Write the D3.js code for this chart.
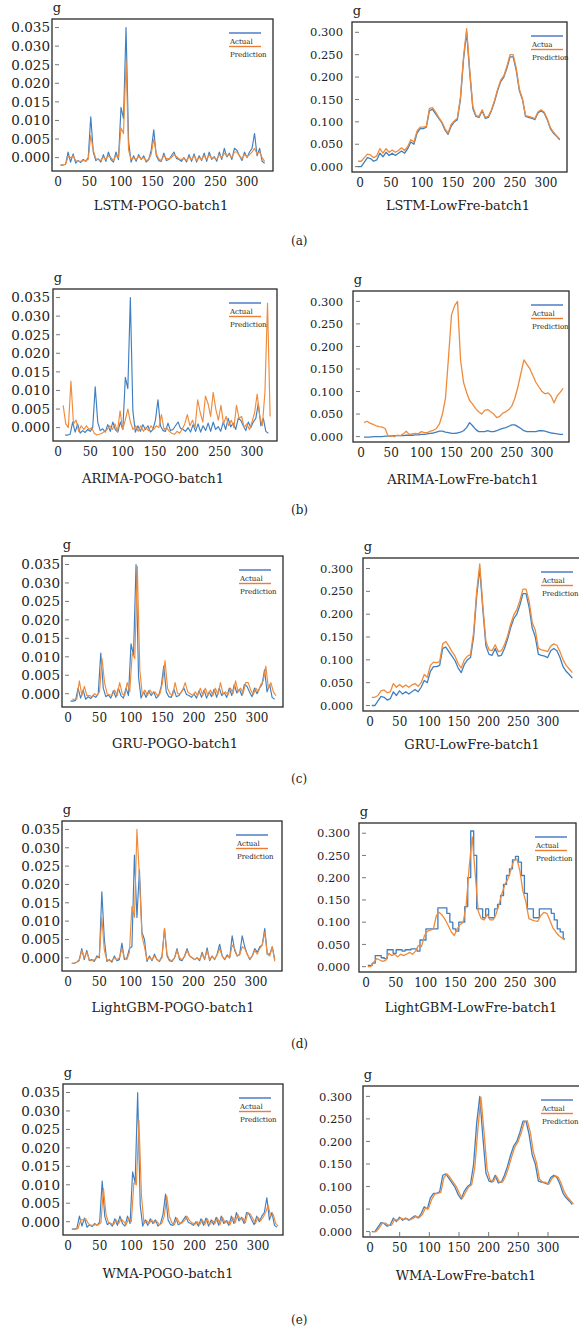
<!DOCTYPE html>
<html>
<head>
<meta charset="utf-8">
<script src="https://cdn.jsdelivr.net/npm/d3@7"></script>
<style>
    body { margin: 0; background: #fff; }
    svg { display: block; }
    text { font-family: "DejaVu Serif", serif; fill: #222; }
</style>
</head>
<body>
<div id="chart"></div>
<script>
// tick values
const pogoTicks = [0, 0.005, 0.010, 0.015, 0.020, 0.025, 0.030, 0.035];
const lowTicks = [0, 0.05, 0.10, 0.15, 0.20, 0.25, 0.30];
const xTicks = [0, 50, 100, 150, 200, 250, 300];

// POGO series, in milli-g (1e-3 g), one sample every 4 steps
const pogoActual = [-2.0,-2.0,-1.8,1.5,-1.2,1.0,-1.5,-0.8,-1.3,-0.5,
    -1.0,0.0,11.0,1.5,-0.8,-0.3,-1.2,0.8,-1.0,1.5,
    -0.5,-1.2,1.5,-0.5,13.5,10.5,35.0,4.5,-1.2,0.5,
    -1.0,0.8,-0.5,0.5,-1.2,-0.5,2.0,7.5,0.5,-0.8,
    -1.0,1.2,-0.8,-0.5,0.5,1.5,-0.2,-0.5,-1.0,0.0,
    -1.2,0.8,-1.0,1.0,-1.2,0.5,-0.8,1.2,-1.0,1.5,
    -0.5,0.3,-1.0,1.5,-0.5,2.5,0.2,1.2,-0.5,2.5,
    2.0,0.5,-0.8,1.5,0.0,1.5,2.5,6.5,0.5,2.5,
    -1.0,-1.5];
const lstmPogoPred = [-2.0,-2.0,-1.8,0.3,0.0,0.5,-0.8,-1.0,-1.0,-0.8,
    -0.8,-0.5,6.0,2.0,-0.3,-0.5,-0.8,0.2,-0.5,0.5,
    0.0,-0.8,0.5,0.0,8.0,6.5,26.0,2.0,-0.5,0.0,
    -0.5,0.3,-0.3,0.0,-0.8,-0.5,1.0,5.0,1.0,-0.3,
    -0.8,0.5,-0.2,-0.3,0.0,0.8,0.3,-0.3,-0.5,-0.2,
    -0.8,0.2,-0.5,0.5,-0.8,0.0,-0.5,0.5,-0.5,0.8,
    -0.2,0.0,-0.5,0.8,0.0,1.2,0.5,0.8,0.0,1.5,
    1.5,0.5,-0.3,0.8,0.2,0.8,1.5,2.5,1.0,1.5,
    0.0,-1.0];
const arimaPogoPred = [6.0,1.0,0.0,12.5,1.0,2.0,-1.0,0.5,-0.5,0.5,
    -0.5,0.0,-1.5,-2.0,-1.8,-1.5,-1.0,-0.5,0.5,-0.5,
    1.0,-1.0,4.5,-0.5,2.0,5.0,1.5,-0.5,0.5,-1.0,
    0.5,-1.0,0.0,-0.8,0.5,-0.5,0.5,0.0,3.5,-0.5,
    0.0,-1.0,-1.5,-1.8,-1.0,-1.5,-0.5,1.0,3.5,0.5,
    2.0,0.0,7.5,4.0,1.5,8.5,6.5,3.0,9.5,5.0,
    2.0,6.0,1.0,3.0,0.5,2.0,0.0,6.0,2.5,3.0,
    0.0,1.0,-0.5,1.5,4.0,9.0,3.0,0.5,9.5,33.5,3.0];
const gruPogoPred = [-1.5,-1.5,-1.5,3.5,-0.5,2.0,-0.5,-0.5,-0.8,0.0,
    -0.5,0.5,9.5,3.0,0.0,-0.3,-0.5,1.0,-0.5,3.0,
    0.0,-0.5,3.0,0.5,11.0,9.5,34.5,6.5,-0.5,1.0,
    -0.5,1.0,0.0,0.5,-0.5,0.0,3.0,9.0,1.5,0.0,
    -0.5,3.0,0.0,0.0,1.0,3.0,0.5,0.0,-0.5,0.5,
    -0.5,1.5,-0.5,1.5,-0.5,1.0,-0.5,1.5,-0.3,3.0,
    0.0,0.5,-0.3,1.5,0.0,3.5,0.5,1.5,0.0,3.0,
    3.0,1.0,-0.3,1.5,0.5,2.5,3.5,7.5,1.5,3.0,
    0.5,-0.5];
const lgbmPogoActual = [-1.5,-1.5,-1.2,-0.5,2.5,-0.5,2.0,-0.8,-0.5,-1.0,
    0.5,0.0,18.0,5.0,-1.0,-0.5,-1.2,0.5,-0.8,-0.5,
    4.0,-0.5,0.0,2.5,3.0,28.0,11.0,24.0,7.0,5.0,
    -1.0,0.5,-0.8,1.0,-0.5,-1.0,0.5,8.0,0.5,-0.8,
    -1.0,0.0,2.5,-0.5,-0.8,0.5,2.5,0.5,0.0,-0.5,
    0.0,-0.8,1.5,-0.5,2.7,-0.8,0.5,-0.5,1.0,3.7,
    0.5,-0.5,0.8,0.0,6.0,2.0,0.5,1.0,6.0,3.0,
    1.0,-0.5,0.5,2.5,1.5,3.0,3.5,8.0,1.0,1.0,
    3.0,-0.5];
const lgbmPogoPred = [-1.5,-1.5,-1.2,-0.8,2.0,0.0,1.5,-0.5,-0.8,-0.5,
    0.0,0.5,11.0,2.0,-0.5,-0.8,-0.8,0.0,-0.5,0.0,
    2.5,0.0,-0.5,1.5,14.0,11.0,35.0,22.0,6.0,3.0,
    -0.5,0.0,-0.5,0.5,-0.5,-0.8,0.0,8.0,1.0,-0.5,
    -0.8,0.0,2.0,0.0,-0.5,0.3,2.0,0.5,0.0,-0.5,
    0.0,-0.5,1.0,-0.3,2.0,-0.5,0.3,-0.3,0.8,2.5,
    0.5,-0.3,0.5,0.0,3.5,2.5,0.5,0.8,3.0,2.5,
    1.0,-0.3,0.5,2.0,1.0,2.5,3.5,7.0,1.0,0.5,
    3.0,-1.0];
const wmaPogoPred = [-2.0,-2.0,-1.8,0.5,0.5,0.8,-0.5,-1.0,-1.0,-0.8,
    -0.8,-0.3,9.0,2.0,-0.3,-0.5,-0.8,0.5,-0.5,0.8,
    0.0,-0.8,1.0,0.0,10.5,10.0,27.5,7.0,-0.5,0.3,
    -0.5,0.5,-0.3,0.2,-0.8,-0.5,1.5,7.0,1.5,-0.3,
    -0.8,1.0,-0.3,-0.3,0.3,1.5,0.3,-0.3,-0.8,0.0,
    -0.8,0.5,-0.8,0.8,-0.8,0.3,-0.5,1.0,-0.8,1.2,
    -0.3,0.2,-0.8,1.2,-0.3,2.0,0.5,1.0,-0.3,2.5,
    2.0,0.8,-0.5,1.2,0.2,1.2,2.5,4.5,1.5,2.0,
    -0.5,-1.2];

// LowFre series, in g, one sample every 5 steps
const lowActual = [0.000,0.000,0.010,0.020,0.018,0.012,0.015,0.030,0.022,0.032,
    0.025,0.030,0.025,0.030,0.035,0.030,0.040,0.055,0.050,0.075,
    0.085,0.085,0.088,0.125,0.128,0.118,0.108,0.098,0.082,0.072,
    0.090,0.100,0.105,0.150,0.240,0.300,0.210,0.130,0.112,0.110,
    0.125,0.108,0.110,0.125,0.145,0.170,0.190,0.200,0.220,0.245,
    0.245,0.215,0.170,0.150,0.112,0.110,0.108,0.105,0.120,0.125,
    0.120,0.105,0.085,0.075,0.068,0.060];
const lstmLowPred = [0.012,0.012,0.020,0.028,0.026,0.020,0.024,0.040,0.030,0.040,
    0.032,0.037,0.032,0.036,0.042,0.036,0.045,0.060,0.055,0.080,
    0.088,0.088,0.090,0.130,0.132,0.122,0.110,0.100,0.085,0.075,
    0.094,0.102,0.108,0.155,0.245,0.308,0.215,0.134,0.114,0.112,
    0.127,0.110,0.112,0.127,0.148,0.173,0.193,0.203,0.224,0.250,
    0.250,0.220,0.173,0.152,0.114,0.112,0.110,0.107,0.122,0.127,
    0.122,0.107,0.087,0.077,0.069,0.062];
const arimaLowActual = [-0.001,-0.001,-0.001,0.000,0.000,0.000,0.000,0.001,0.001,0.001,
    0.002,0.002,0.002,0.002,0.003,0.003,0.003,0.004,0.004,0.005,
    0.005,0.006,0.007,0.008,0.010,0.012,0.012,0.010,0.009,0.007,
    0.007,0.008,0.010,0.013,0.020,0.031,0.024,0.016,0.011,0.011,
    0.011,0.013,0.011,0.011,0.013,0.016,0.018,0.020,0.023,0.026,
    0.026,0.022,0.018,0.013,0.011,0.011,0.011,0.011,0.013,0.013,
    0.012,0.010,0.008,0.007,0.006,0.005,0.005];
const arimaLowPred = [0.031,0.034,0.030,0.027,0.024,0.022,0.021,0.018,0.001,0.002,
    0.000,0.003,0.002,0.006,0.012,0.005,0.006,0.007,0.006,0.011,
    0.009,0.009,0.012,0.014,0.018,0.028,0.050,0.085,0.175,0.270,
    0.290,0.300,0.170,0.120,0.098,0.080,0.072,0.062,0.055,0.050,
    0.058,0.060,0.055,0.050,0.042,0.045,0.052,0.055,0.060,0.068,
    0.085,0.110,0.140,0.170,0.160,0.150,0.135,0.120,0.110,0.100,
    0.095,0.097,0.090,0.075,0.090,0.098,0.107];
const gruLowPred = [0.018,0.018,0.022,0.032,0.034,0.028,0.030,0.048,0.040,0.046,
    0.040,0.045,0.040,0.045,0.048,0.042,0.050,0.068,0.062,0.088,
    0.095,0.094,0.096,0.135,0.140,0.130,0.118,0.108,0.092,0.082,
    0.100,0.108,0.112,0.160,0.250,0.310,0.218,0.140,0.122,0.120,
    0.133,0.118,0.120,0.133,0.152,0.178,0.198,0.210,0.230,0.255,
    0.255,0.228,0.182,0.165,0.125,0.122,0.120,0.118,0.130,0.135,
    0.132,0.118,0.100,0.088,0.080,0.072];
const lgbmLowActual = [0.003,0.003,0.008,0.025,0.025,0.020,0.018,0.038,0.038,0.030,
    0.038,0.038,0.035,0.038,0.038,0.040,0.040,0.035,0.060,0.060,
    0.085,0.085,0.085,0.085,0.132,0.132,0.132,0.120,0.100,0.085,
    0.080,0.100,0.100,0.135,0.200,0.305,0.250,0.130,0.130,0.110,
    0.130,0.110,0.110,0.130,0.140,0.160,0.185,0.205,0.220,0.240,
    0.248,0.235,0.205,0.165,0.130,0.130,0.110,0.110,0.130,0.130,
    0.130,0.130,0.120,0.105,0.085,0.078,0.063];
const lgbmLowPred = [0.000,0.000,0.010,0.018,0.015,0.012,0.014,0.030,0.025,0.028,
    0.022,0.028,0.025,0.028,0.032,0.028,0.035,0.048,0.045,0.070,
    0.080,0.082,0.085,0.115,0.122,0.115,0.105,0.092,0.078,0.070,
    0.085,0.095,0.100,0.140,0.225,0.292,0.210,0.125,0.108,0.105,
    0.118,0.105,0.105,0.118,0.140,0.165,0.185,0.198,0.218,0.240,
    0.242,0.215,0.170,0.145,0.108,0.105,0.103,0.102,0.115,0.122,
    0.120,0.105,0.088,0.078,0.070,0.065,0.060];
const wmaLowPred = [0.000,0.000,0.008,0.018,0.019,0.014,0.014,0.027,0.025,0.030,
    0.027,0.029,0.026,0.029,0.034,0.031,0.038,0.052,0.051,0.071,
    0.083,0.085,0.087,0.120,0.128,0.120,0.110,0.100,0.085,0.074,
    0.087,0.099,0.104,0.142,0.228,0.298,0.220,0.138,0.114,0.111,
    0.123,0.110,0.110,0.123,0.143,0.167,0.188,0.199,0.218,0.242,
    0.246,0.220,0.176,0.153,0.116,0.110,0.109,0.105,0.118,0.124,
    0.121,0.107,0.088,0.077,0.069,0.061];

const subLabels = ["(a)", "(b)", "(c)", "(d)", "(e)"];

const blue = "#3f7fc0",
    orange = "#ef8b3b";

// one entry per panel: frame box [left, top, right, bottom], pixel of x=0 and x=300
let panels = [
    { title: "LSTM-POGO-batch1", kind: "pogo", box: [52, 19, 273, 171], xpx: [58, 247], labelRight: 50, titleX: 161, titleY: 210, legendX: 229, legend: ["Actual", "Prediction"],
      actual: { values: pogoActual, start: 4, step: 4 }, pred: { values: lstmPogoPred, start: 4, step: 4 } },
    { title: "LSTM-LowFre-batch1", kind: "low", box: [352, 22, 567, 172], xpx: [360, 546], labelRight: 343, titleX: 458, titleY: 210, legendX: 531, legend: ["Actua", "Prediction"],
      actual: { values: lowActual, start: -3, step: 5 }, pred: { values: lstmLowPred, start: -3, step: 5 } },
    { title: "ARIMA-POGO-batch1", kind: "pogo", box: [53, 289, 277, 441], xpx: [58, 252], labelRight: 50, titleX: 153, titleY: 483, legendX: 229, legend: ["Actual", "Prediction"],
      actual: { values: pogoActual, start: 11, step: 3.88 }, pred: { values: arimaPogoPred, start: 8, step: 4 } },
    { title: "ARIMA-LowFre-batch1", kind: "low", box: [353, 291, 569, 442], xpx: [361, 542], labelRight: 343, titleX: 463, titleY: 484, legendX: 531, legend: ["Actual", "Prediction"],
      actual: { values: arimaLowActual, start: 5, step: 5 }, pred: { values: arimaLowPred, start: 5, step: 5 } },
    { title: "GRU-POGO-batch1", kind: "pogo", box: [62, 556, 283, 707], xpx: [68, 257], labelRight: 60, titleX: 175, titleY: 748, legendX: 239, legend: ["Actual", "Prediction"],
      actual: { values: pogoActual, start: 4, step: 4 }, pred: { values: gruPogoPred, start: 6, step: 4 } },
    { title: "GRU-LowFre-batch1", kind: "low", box: [363, 558, 580, 711], xpx: [370, 548], labelRight: 353, titleX: 472, titleY: 749, legendX: 541, legend: ["Actual", "Prediction"],
      actual: { values: lowActual, start: 3, step: 5.2 }, pred: { values: gruLowPred, start: 3, step: 5.2 } },
    { title: "LightGBM-POGO-batch1", kind: "pogo", box: [62, 821, 282, 971], xpx: [68, 256], labelRight: 60, titleX: 173, titleY: 1012, legendX: 236, legend: ["Actual", "Prediction"],
      actual: { values: lgbmPogoActual, start: 6, step: 4 }, pred: { values: lgbmPogoPred, start: 6, step: 4 } },
    { title: "LightGBM-LowFre-batch1", kind: "low", box: [359, 823, 576, 972], xpx: [366, 545], labelRight: 350, titleX: 471, titleY: 1012, legendX: 535, legend: ["Actual", "Prediction"],
      actual: { values: lgbmLowActual, start: 3, step: 5, stepped: true }, pred: { values: lgbmLowPred, start: 3, step: 5 } },
    { title: "WMA-POGO-batch1", kind: "pogo", box: [63, 1084, 283, 1235], xpx: [68, 258], labelRight: 60, titleX: 168, titleY: 1278, legendX: 239, legend: ["Actual", "Prediction"],
      actual: { values: pogoActual, start: 6, step: 4 }, pred: { values: wmaPogoPred, start: 8, step: 4 } },
    { title: "WMA-LowFre-batch1", kind: "low", box: [363, 1086, 580, 1237], xpx: [370, 548], labelRight: 352, titleX: 466, titleY: 1280, legendX: 541, legend: ["Actual", "Prediction"], xTickMarks: true,
      actual: { values: lowActual, start: 3, step: 5.2 }, pred: { values: wmaLowPred, start: 5, step: 5.2 } }
];

let subLabelY = [245, 514, 783, 1048, 1324];

let svg = d3.select("#chart")
    .append("svg")
    .attr("width", 579)
    .attr("height", 1330);

panels.forEach(function (p, i) {
    let [L, T, R, B] = p.box,
        pogo = p.kind === "pogo";

    let x = d3.scaleLinear()
        .domain([0, 300])
        .range(p.xpx);

    let y = d3.scaleLinear()
        .domain(pogo ? [-0.0036, 0.0373] : [-0.012, 0.323])
        .range([B, T]);

    // POGO values are stored in milli-g
    let unit = pogo ? 1000 : 1;

    let g = svg.append("g");

    g.append("clipPath")
        .attr("id", "clip" + i)
        .append("rect")
        .attr("x", L)
        .attr("y", T)
        .attr("width", R - L)
        .attr("height", B - T);

    [[p.actual, blue], [p.pred, orange]].forEach(function (s) {
        let pts = s[0].values.map(function (v, k) {
            return [s[0].start + k * s[0].step, v / unit];
        });
        let line = d3.line()
            .x(function (d) { return x(d[0]); })
            .y(function (d) { return y(d[1]); })
            .curve(s[0].stepped ? d3.curveStep : d3.curveLinear);
        g.append("path")
            .attr("clip-path", "url(#clip" + i + ")")
            .attr("d", line(pts))
            .style("fill", "none")
            .style("stroke", s[1])
            .style("stroke-width", pogo ? 1.15 : 1.3)
            .style("stroke-linejoin", "round");
    });

    // frame
    g.append("rect")
        .attr("x", L)
        .attr("y", T)
        .attr("width", R - L)
        .attr("height", B - T)
        .style("fill", "none")
        .style("stroke", "#2a2a2a")
        .style("stroke-width", 1.3);

    // y ticks and labels
    let yt = pogo ? pogoTicks : lowTicks;
    g.selectAll(".ytick")
        .data(yt)
        .enter()
        .append("line")
        .attr("x1", L + 3)
        .attr("x2", L + 7)
        .attr("y1", function (d) { return y(d); })
        .attr("y2", function (d) { return y(d); })
        .style("stroke", "#555")
        .style("stroke-width", 0.8);

    g.selectAll(".ylab")
        .data(yt)
        .enter()
        .append("text")
        .attr("x", p.labelRight)
        .attr("y", function (d) { return y(d); })
        .attr("dy", "0.36em")
        .style("text-anchor", "end")
        .style("font-size", pogo ? "13.5px" : "11.5px")
        .text(d3.format(".3f"));

    // x labels
    g.selectAll(".xlab")
        .data(xTicks)
        .enter()
        .append("text")
        .attr("x", function (d) { return x(d); })
        .attr("y", B + 15)
        .style("text-anchor", "middle")
        .style("font-size", "12px")
        .text(function (d) { return d; });

    if (p.xTickMarks) {
        g.selectAll(".xtick")
            .data(xTicks)
            .enter()
            .append("line")
            .attr("x1", function (d) { return x(d); })
            .attr("x2", function (d) { return x(d); })
            .attr("y1", B - 5)
            .attr("y2", B - 1)
            .style("stroke", "#555")
            .style("stroke-width", 0.8);
    }

    // unit
    g.append("text")
        .attr("x", L + 5)
        .attr("y", T - 7)
        .style("text-anchor", "middle")
        .style("font-size", "13px")
        .text("g");

    // title
    g.append("text")
        .attr("x", p.titleX)
        .attr("y", p.titleY)
        .style("text-anchor", "middle")
        .style("font-size", "13px")
        .text(p.title);

    // legend
    let lx = p.legendX;
    g.append("line")
        .attr("x1", lx).attr("x2", lx + 32)
        .attr("y1", T + 14).attr("y2", T + 14)
        .style("stroke", "#4472c4")
        .style("stroke-width", 1.4);
    g.append("text")
        .attr("x", lx + 1)
        .attr("y", T + 24.5)
        .style("font-size", "7px")
        .text(p.legend[0]);
    g.append("line")
        .attr("x1", lx).attr("x2", lx + 32)
        .attr("y1", T + 27.5).attr("y2", T + 27.5)
        .style("stroke", "#ed7d31")
        .style("stroke-width", 1.4);
    g.append("text")
        .attr("x", lx + 1)
        .attr("y", T + 38)
        .style("font-size", "7px")
        .text(p.legend[1]);
});

svg.selectAll(".sublabel")
    .data(subLabels)
    .enter()
    .append("text")
    .attr("x", 291)
    .attr("y", function (d, i) { return subLabelY[i]; })
    .style("font-size", "12px")
    .text(function (d) { return d; });
</script>
</body>
</html>
